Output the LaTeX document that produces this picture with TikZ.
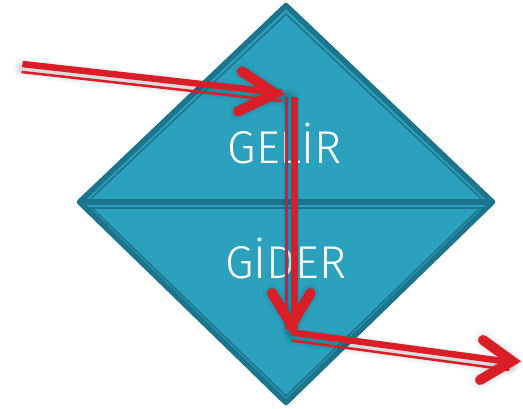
\documentclass[tikz,border=0pt]{standalone}
\usepackage{fontspec}
\setmainfont{Fira Sans Light}
\usetikzlibrary{calc}
\definecolor{tealfill}{RGB}{44,161,190}
\definecolor{tealdark}{RGB}{28,117,140}
\definecolor{arrowred}{RGB}{218,30,40}
\newcommand\drawdouble[2]{%
  \draw[thickred] ($(#1)!4pt!90:(#2)$) -- ($(#2)!4pt!-90:(#1)$);
  \draw[thinred] ($(#1)!4pt!-90:(#2)$) -- ($(#2)!4pt!90:(#1)$);}
\begin{document}
\begin{tikzpicture}[x=1pt,y=-1pt,
  diamondfill/.style={fill=tealfill},
  outline/.style={draw=tealdark,line width=5.5pt,line join=round},
  innerline/.style={draw=tealdark,line width=1.5pt,line join=miter},
  band/.style={draw=tealdark,line width=5.5pt},
  label/.style={text=white,font=\fontsize{46}{50}\selectfont,anchor=base,inner sep=0pt},
  thickred/.style={draw=arrowred,line width=6.5pt},
  thinred/.style={draw=arrowred,line width=2.5pt},
  chevron/.style={draw=arrowred,line width=10pt,line cap=round,line join=miter},
  shade/.style={draw=black,line cap=round,line join=round}]
\useasboundingbox (0,0) rectangle (523,408);
% diamond
\coordinate (top) at (286,5.5);
\coordinate (right) at (492.5,202);
\coordinate (bottom) at (286,402.5);
\coordinate (left) at (79.5,202);
\path[diamondfill,outline] (top) -- (right) -- (bottom) -- (left) -- cycle;
\draw[band] (left) -- (right);
\draw[innerline] (91,198.5) -- (286,14) -- (481,198.5);
\draw[innerline] (86,208) -- (486,208);
\draw[innerline] (92,208) -- (286,396) -- (480,208);
% labels
\node[label] (gelir) at (285,163) {GELİR};
\node[label] (gider) at (286,278) {GİDER};
% arrow points
\coordinate (s1) at (22,68);
\coordinate (e1) at (282,97);
\coordinate (t1) at (275,93.5);
\coordinate (s2) at (290.5,97);
\coordinate (e2) at (290.5,329);
\coordinate (t2) at (291.5,325);
\coordinate (s3) at (292,336.5);
\coordinate (e3) at (510,366);
\coordinate (t3) at (512,361);
% shadows
\begin{scope}[shift={(2,5)}]
  \foreach \w/\o in {18/0.04,13/0.05,8/0.06}{
    \draw[shade,line width=\w pt,opacity=\o] (s1) -- (e1);
    \draw[shade,line width=\w pt,opacity=\o] (s2) -- (e2);
    \draw[shade,line width=\w pt,opacity=\o] (s3) -- (e3);
    \draw[shade,line width=\w pt,opacity=\o] ($(t1)+(-33,-22)$) -- (t1) -- ($(t1)+(-37,18)$);
    \draw[shade,line width=\w pt,opacity=\o] ($(t2)+(-19.5,-32)$) -- (t2) -- ($(t2)+(19,-32)$);
    \draw[shade,line width=\w pt,opacity=\o] ($(t3)+(-29,-21)$) -- (t3) -- ($(t3)+(-32,19)$);
  }
\end{scope}
% arrows
\drawdouble{s1}{e1}
\draw[chevron] ($(t1)+(-33,-22)$) -- (t1) -- ($(t1)+(-37,18)$);
\drawdouble{s2}{e2}
\draw[chevron] ($(t2)+(-19.5,-32)$) -- (t2) -- ($(t2)+(19,-32)$);
\drawdouble{s3}{e3}
\draw[chevron] ($(t3)+(-29,-21)$) -- (t3) -- ($(t3)+(-32,19)$);
\end{tikzpicture}
\end{document}
